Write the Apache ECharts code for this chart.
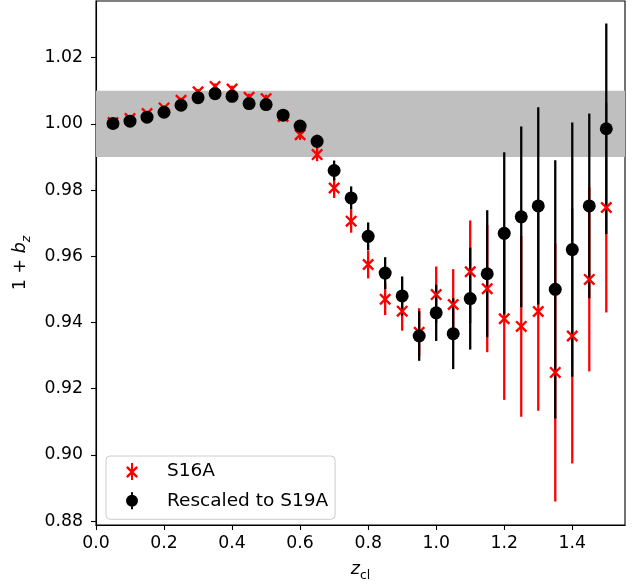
<!DOCTYPE html>
<html>
<head>
<meta charset="utf-8">
<script src="https://cdn.jsdelivr.net/npm/echarts@6/dist/echarts.min.js"></script>
<style>html,body{margin:0;padding:0;background:#fff;}#c{width:644px;height:587px;}</style>
</head>
<body>
<div id="c"></div>
<script>
// ---- data ----
var zcl = [0.05,0.10,0.15,0.20,0.25,0.30,0.35,0.40,0.45,0.50,0.55,0.60,0.65,0.70,0.75,
           0.80,0.85,0.90,0.95,1.00,1.05,1.10,1.15,1.20,1.25,1.30,1.35,1.40,1.45,1.50];
var s16a = [1.0004,1.0016,1.0031,1.0048,1.0071,1.0097,1.0113,1.0105,1.0080,1.0076,1.0022,0.9967,0.9907,0.9806,0.9706,
            0.9575,0.9470,0.9434,0.9370,0.9484,0.9454,0.9553,0.9502,0.9411,0.9388,0.9433,0.9249,0.9359,0.9530,0.9747];
var rescaled = [1.0001,1.0008,1.0020,1.0035,1.0056,1.0079,1.0091,1.0083,1.0061,1.0058,1.0026,0.9993,0.9947,0.9859,0.9776,
                0.9660,0.9549,0.9480,0.9359,0.9429,0.9366,0.9472,0.9547,0.9669,0.9719,0.9752,0.9500,0.9620,0.9752,0.9985];
var errS16a = [0.0005,0.0005,0.0006,0.0007,0.0008,0.0008,0.0009,0.0010,0.0011,0.0012,0.0014,0.0016,0.0020,0.0030,0.0035,
               0.0042,0.0048,0.0059,0.0073,0.0085,0.0107,0.0155,0.0192,0.0245,0.0273,0.0300,0.0390,0.0385,0.0278,0.0317];
var errRescaled = [0.0005,0.0005,0.0006,0.0007,0.0008,0.0008,0.0009,0.0010,0.0011,0.0012,0.0014,0.0016,0.0020,0.0030,0.0035,
                   0.0042,0.0048,0.0059,0.0075,0.0085,0.0107,0.0154,0.0192,0.0245,0.0273,0.0298,0.0390,0.0384,0.0279,0.0318];
var bandRange = [0.99, 1.01];
var xTicks = [0.0,0.2,0.4,0.6,0.8,1.0,1.2,1.4];
var yTicks = [0.88,0.90,0.92,0.94,0.96,0.98,1.00,1.02];
var seriesNames = ['S16A','Rescaled to S19A'];

// ---- build ----
function pts(y){ return zcl.map(function(x,i){ return [x, y[i]]; }); }
function bars(y, e){ return zcl.map(function(x,i){ return [x, y[i]-e[i], y[i]+e[i]]; }); }
function errSeries(name, data, color, z){
  return {
    type:'custom', name:name, z:z, silent:true, data:data,
    encode:{x:0, y:[1,2]},
    renderItem:function(params, api){
      var p1 = api.coord([api.value(0), api.value(1)]);
      var p2 = api.coord([api.value(0), api.value(2)]);
      return {type:'line', shape:{x1:p1[0],y1:p1[1],x2:p2[0],y2:p2[1]},
              style:{stroke:color, lineWidth:2.3}};
    }
  };
}
var FONT = 'DejaVu Sans';
var xMarker = 'path://M1.4,0 L10,8.6 L8.6,10 L0,1.4 Z M8.6,0 L10,1.4 L1.4,10 L0,8.6 Z';
var redIcon = 'path://M1.7,3 L12,13.3 L10.3,15 L0,4.7 Z M10.3,3 L12,4.7 L1.7,15 L0,13.3 Z M5,0 L7,0 L7,17 L5,17 Z';
var blackIcon = 'path://M5,0 L7,0 L7,2.5 L5,2.5 Z M5,14.5 L7,14.5 L7,17 L5,17 Z M0,8.5 A6,6 0 1 1 12,8.5 A6,6 0 1 1 0,8.5 Z';

var chart = echarts.init(document.getElementById('c'), null, {renderer:'canvas'});
chart.setOption({
  animation:false,
  backgroundColor:'#ffffff',
  grid:{left:96, right:19, top:1, bottom:60, show:true, borderColor:'#000', borderWidth:1.1, backgroundColor:'transparent'},
  xAxis:{
    type:'value', min:0, max:1.555,
    name:'{z|z}{s|cl}', nameLocation:'middle', nameGap:35,
    nameTextStyle:{rich:{
      z:{fontFamily:FONT, fontStyle:'italic', fontSize:17.5, lineHeight:22, color:'#000', verticalAlign:'top'},
      s:{fontFamily:FONT, fontSize:12.5, lineHeight:13, color:'#000', verticalAlign:'bottom'}
    }},
    axisLine:{show:true, onZero:false, lineStyle:{color:'#000', width:1.1}},
    axisTick:{show:true, length:5, lineStyle:{color:'#000', width:1.1}, customValues:xTicks},
    axisLabel:{fontFamily:FONT, fontSize:17.3, color:'#000', margin:10, customValues:xTicks,
               formatter:function(v){ return v.toFixed(1); }},
    splitLine:{show:false}
  },
  yAxis:{
    type:'value', min:0.8788, max:1.0371,
    name:'{r|1 + }{b|b}{s|z}', nameLocation:'middle', nameGap:62, nameRotate:90,
    nameTextStyle:{rich:{
      r:{fontFamily:FONT, fontSize:17.5, lineHeight:22, color:'#000', verticalAlign:'top'},
      b:{fontFamily:FONT, fontStyle:'italic', fontSize:17.5, lineHeight:22, color:'#000', verticalAlign:'top'},
      s:{fontFamily:FONT, fontStyle:'italic', fontSize:12.5, lineHeight:13, color:'#000', verticalAlign:'bottom'}
    }},
    axisLine:{show:true, onZero:false, lineStyle:{color:'#000', width:1.1}},
    axisTick:{show:true, length:5, lineStyle:{color:'#000', width:1.1}, customValues:yTicks},
    axisLabel:{fontFamily:FONT, fontSize:17.3, color:'#000', margin:13, padding:[4,0,0,0], customValues:yTicks,
               formatter:function(v){ return v.toFixed(2); }},
    splitLine:{show:false}
  },
  legend:{
    left:106, top:456, orient:'vertical',
    padding:[6, 7, 9, 20],
    itemWidth:12, itemHeight:17, itemGap:10.3,
    borderColor:'#cccccc', borderWidth:1, borderRadius:4,
    backgroundColor:'rgba(255,255,255,0.8)',
    textStyle:{fontFamily:FONT, fontSize:18.5, color:'#000', lineHeight:17, padding:[0,0,0,24]},
    itemStyle:{borderWidth:0},
    selectedMode:false,
    data:[{name:seriesNames[0], icon:redIcon},{name:seriesNames[1], icon:blackIcon}]
  },
  series:[
    {type:'line', name:'_band', data:[], z:1, silent:true,
     markArea:{silent:true, itemStyle:{color:'#bfbfbf'}, data:[[{yAxis:bandRange[0]},{yAxis:bandRange[1]}]]}},
    errSeries('_err_s16a', bars(s16a, errS16a), '#ff0000', 2),
    errSeries('_err_resc', bars(rescaled, errRescaled), '#000000', 3),
    {type:'scatter', name:seriesNames[0], z:4, silent:true, data:pts(s16a),
     symbol:xMarker, symbolSize:12, itemStyle:{color:'#ff0000', opacity:1}},
    {type:'scatter', name:seriesNames[1], z:5, silent:true, data:pts(rescaled),
     symbol:'circle', symbolSize:13, itemStyle:{color:'#000000', opacity:1}}
  ]
});
</script>
</body>
</html>
